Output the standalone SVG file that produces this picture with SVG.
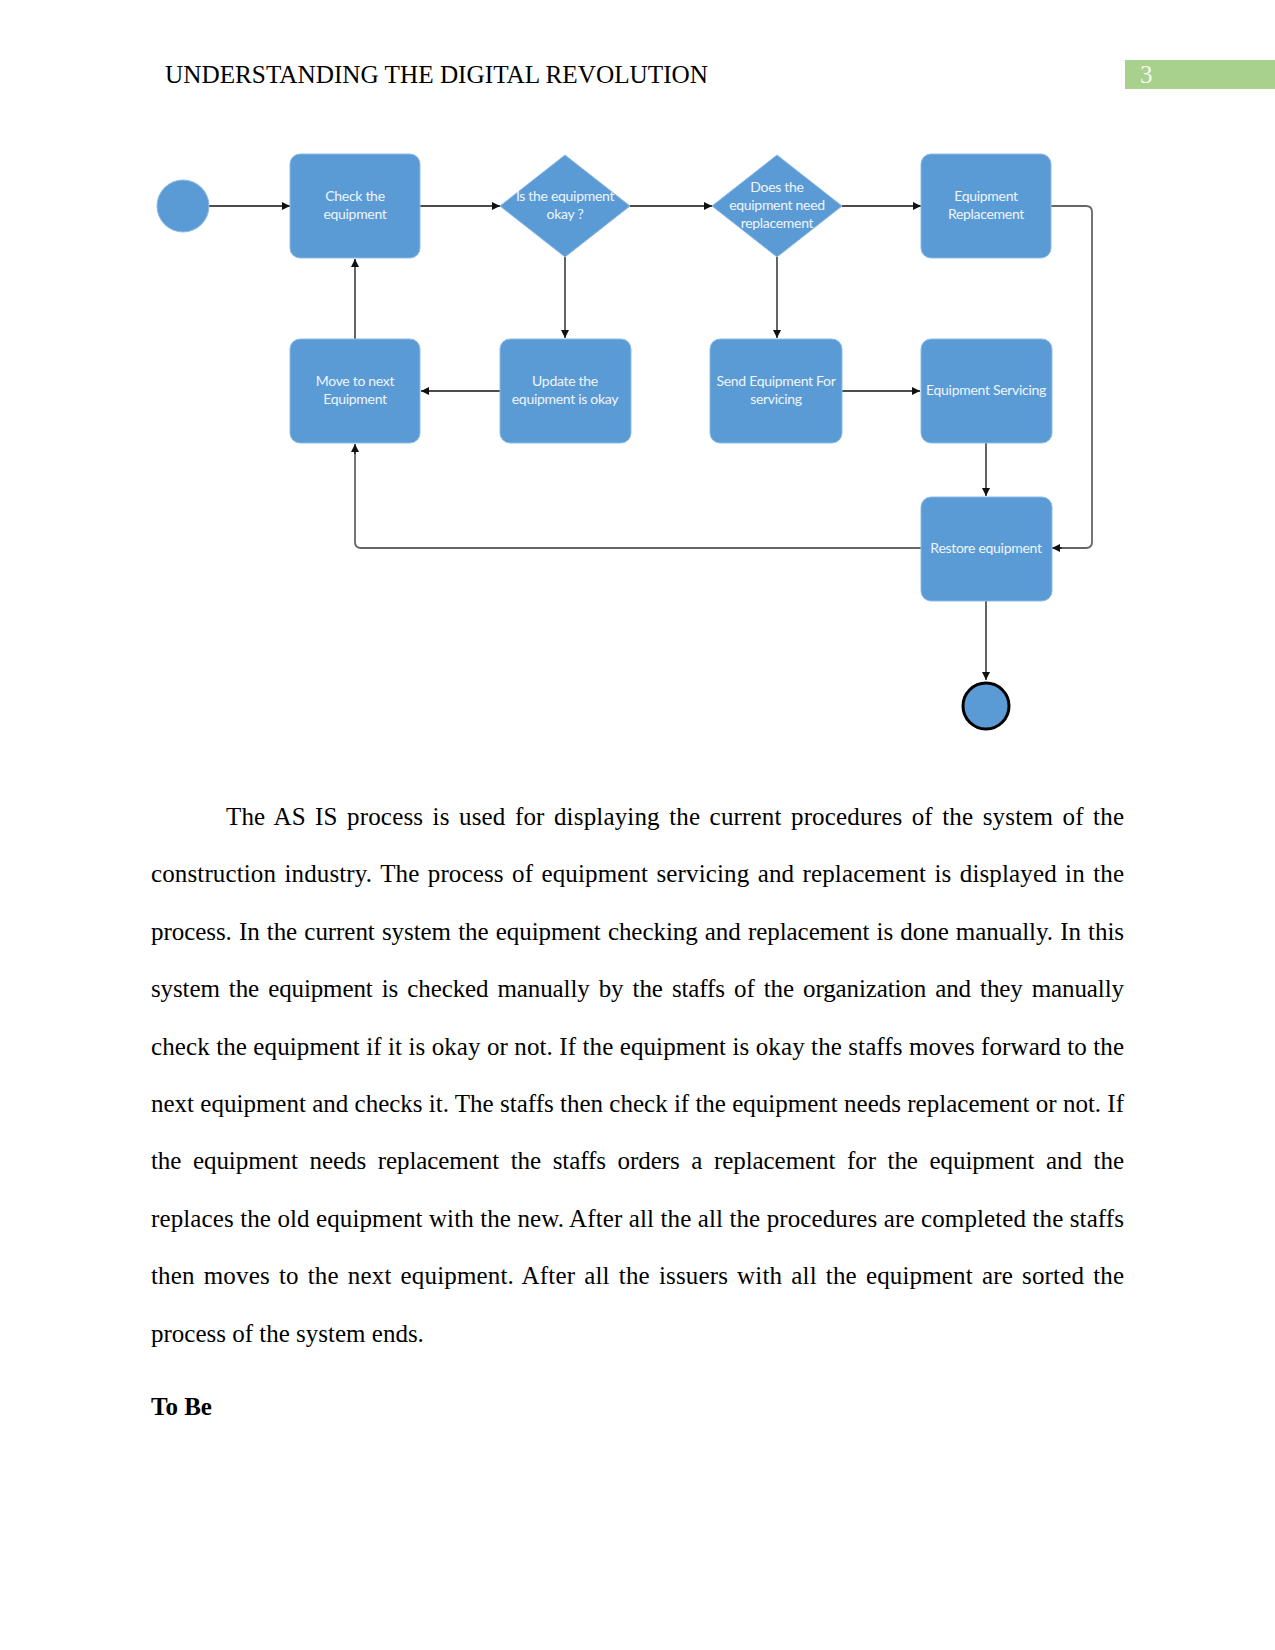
<svg xmlns="http://www.w3.org/2000/svg" width="1275" height="1650" viewBox="0 0 1275 1650">
<defs>
<marker id="ah" viewBox="0 0 10 10" refX="10" refY="5" markerWidth="8" markerHeight="8" markerUnits="userSpaceOnUse" orient="auto">
<path d="M0,0 L10,5 L0,10 z" fill="#111"/>
</marker>
</defs>
<style>
.node{fill:#5b9bd5;stroke:#8dbbe6;stroke-width:1}
.lbl{font-family:Lato,"Open Sans",sans-serif;font-size:14px;fill:#eef5fc;text-anchor:middle;letter-spacing:-0.3px}
.c{fill:none;stroke:#111;stroke-width:1.3}
.cg{fill:none;stroke:#666;stroke-width:1.8}
.body{font-family:"Liberation Serif","Times New Roman",serif;font-size:25px;fill:#000}
</style>
<rect width="1275" height="1650" fill="#fff"/>
<g id="header">
<text x="165" y="83" class="body" textLength="543" lengthAdjust="spacingAndGlyphs">UNDERSTANDING THE DIGITAL REVOLUTION</text>
<rect x="1125" y="60" width="150" height="29" fill="#a9d18e"/>
<text x="1140" y="83" font-family="Liberation Serif,serif" font-size="25" fill="#f2f9ee">3</text>
</g>
<g id="connectors">
<line class="c" x1="209" y1="206" x2="290" y2="206" marker-end="url(#ah)"/>
<line class="c" x1="420" y1="206" x2="500" y2="206" marker-end="url(#ah)"/>
<line class="c" x1="630" y1="206" x2="712" y2="206" marker-end="url(#ah)"/>
<line class="c" x1="842" y1="206" x2="921" y2="206" marker-end="url(#ah)"/>
<line class="c" x1="565" y1="257" x2="565" y2="338" marker-end="url(#ah)"/>
<line class="c" x1="777" y1="257" x2="777" y2="338" marker-end="url(#ah)"/>
<line class="c" x1="355" y1="339" x2="355" y2="259" marker-end="url(#ah)"/>
<line class="c" x1="500" y1="391" x2="421" y2="391" marker-end="url(#ah)"/>
<line class="c" x1="842" y1="391" x2="920" y2="391" marker-end="url(#ah)"/>
<line class="c" x1="986" y1="443" x2="986" y2="496" marker-end="url(#ah)"/>
<line class="c" x1="986" y1="601" x2="986" y2="680" marker-end="url(#ah)"/>
<path class="cg" d="M1051,206 L1086,206 Q1092,206 1092,212 L1092,542 Q1092,548 1086,548 L1060,548"/>
<line class="c" x1="1062" y1="548" x2="1052" y2="548" marker-end="url(#ah)"/>
<path class="cg" d="M921,548 L361,548 Q355,548 355,542 L355,452"/>
<line class="c" x1="355" y1="454" x2="355" y2="444" marker-end="url(#ah)"/>
</g>
<g id="start"><circle class="node" cx="183" cy="206" r="26"/></g>
<g id="check"><rect class="node" x="290" y="154" width="130" height="104" rx="10"/>
<text class="lbl" x="355" y="201">Check  the</text><text class="lbl" x="355" y="219">equipment</text></g>
<g id="d1"><path class="node" d="M565,155 L630,206 L565,257 L500,206 z"/>
<text class="lbl" x="565" y="201">Is the equipment</text><text class="lbl" x="565" y="219">okay ?</text></g>
<g id="d2"><path class="node" d="M777,155 L842,206 L777,257 L712,206 z"/>
<text class="lbl" x="777" y="192">Does the</text><text class="lbl" x="777" y="210">equipment need</text><text class="lbl" x="777" y="228">replacement</text></g>
<g id="replace"><rect class="node" x="921" y="154" width="130" height="104" rx="10"/>
<text class="lbl" x="986" y="201">Equipment</text><text class="lbl" x="986" y="219">Replacement</text></g>
<g id="move"><rect class="node" x="290" y="339" width="130" height="104" rx="10"/>
<text class="lbl" x="355" y="386">Move to next</text><text class="lbl" x="355" y="404">Equipment</text></g>
<g id="update"><rect class="node" x="500" y="339" width="131" height="104" rx="10"/>
<text class="lbl" x="565" y="386">Update the</text><text class="lbl" x="565" y="404">equipment is okay</text></g>
<g id="send"><rect class="node" x="710" y="339" width="132" height="104" rx="10"/>
<text class="lbl" x="776" y="386">Send Equipment For</text><text class="lbl" x="776" y="404">servicing</text></g>
<g id="servicing"><rect class="node" x="921" y="339" width="131" height="104" rx="10"/>
<text class="lbl" x="986" y="395">Equipment Servicing</text></g>
<g id="restore"><rect class="node" x="921" y="497" width="131" height="104" rx="10"/>
<text class="lbl" x="986" y="553">Restore equipment</text></g>
<g id="end"><circle cx="986" cy="706" r="23" fill="#5b9bd5" stroke="#000" stroke-width="3"/></g>
<g id="body">
<text class="body" x="226" y="825" word-spacing="3" textLength="898" lengthAdjust="spacing">The AS IS process is used for displaying the current procedures of the system of the</text>
<text class="body" x="151" y="882.4" word-spacing="2" textLength="973" lengthAdjust="spacing">construction industry. The process of equipment servicing and replacement is displayed in the</text>
<text class="body" x="151" y="939.8" word-spacing="1" textLength="973" lengthAdjust="spacing">process. In the current system the equipment checking and replacement is done manually. In this</text>
<text class="body" x="151" y="997.2" word-spacing="3" textLength="973" lengthAdjust="spacing">system the equipment is checked manually by the staffs of the organization and they manually</text>
<text class="body" x="151" y="1054.6" textLength="973" lengthAdjust="spacing">check the equipment if it is okay or not. If the equipment is okay the staffs moves forward to the</text>
<text class="body" x="151" y="1112" textLength="973" lengthAdjust="spacing">next equipment and checks it. The staffs then check if the equipment needs replacement or not. If</text>
<text class="body" x="151" y="1169.4" word-spacing="5.5" textLength="973" lengthAdjust="spacing">the equipment needs replacement the staffs orders a replacement for the equipment and the</text>
<text class="body" x="151" y="1226.8" textLength="973" lengthAdjust="spacing">replaces the old equipment with the new. After all the all the procedures are completed the staffs</text>
<text class="body" x="151" y="1284.2" word-spacing="2.7" textLength="973" lengthAdjust="spacing">then moves to the next equipment. After all the issuers with all the equipment are sorted the</text>
<text class="body" x="151" y="1341.6">process of the system ends.</text>
<text class="body" x="151" y="1415" font-weight="bold">To Be</text>
</g>
</svg>
